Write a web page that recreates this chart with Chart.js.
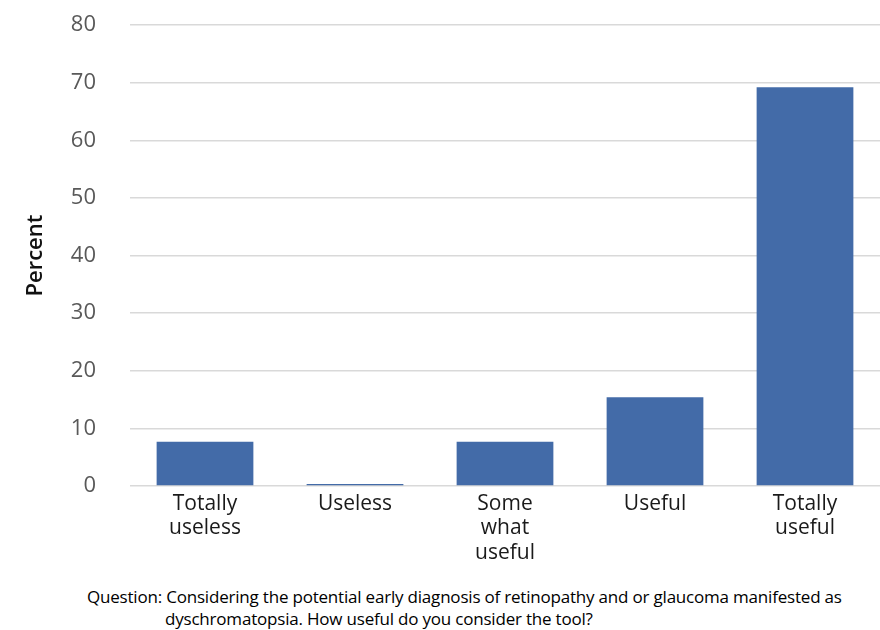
<!DOCTYPE html>
<html>
<head>
<meta charset="utf-8">
<script src="https://cdn.jsdelivr.net/npm/chart.js@4/dist/chart.umd.min.js"></script>
<style>
  html, body { margin: 0; padding: 0; background: #ffffff; }
  #wrap { position: relative; width: 880px; height: 630px; }
  #chartBox { position: absolute; left: 0; top: 0; width: 880px; height: 575px; }
  #caption {
    position: absolute; left: 87px; top: 586px; width: 790px;
    font-family: "Open Sans", "Liberation Sans", sans-serif;
    font-size: 17px; line-height: 22px; color: #000; letter-spacing: -0.2px;
  }
  #caption .l2 { padding-left: 78px; }
</style>
</head>
<body>
<div id="wrap">
  <div id="chartBox"><canvas id="c" width="880" height="575"></canvas></div>
  <div id="caption">
    <div>Question: Considering the potential early diagnosis of retinopathy and or glaucoma manifested as</div>
    <div class="l2">dyschromatopsia. How useful do you consider the tool?</div>
  </div>
</div>
<script>
// Response categories (multi-line labels)
const categories = [
  ["Totally", "useless"],
  ["Useless"],
  ["Some", "what", "useful"],
  ["Useful"],
  ["Totally", "useful"]
];
// Share of respondents, percent
const percentValues = [7.7, 0, 7.7, 15.4, 69.2];
// Y axis range and step
const yMin = 0;
const yMax = 80;
const yStep = 10;

new Chart(document.getElementById("c"), {
  type: "bar",
  data: {
    labels: categories,
    datasets: [{
      data: percentValues,
      backgroundColor: "#436ba8",
      borderWidth: 0,
      minBarLength: 2,
      categoryPercentage: 1.0,
      barPercentage: 0.645
    }]
  },
  options: {
    responsive: false,
    animation: false,
    layout: { padding: { left: 23, right: 0, top: 0, bottom: 4 } },
    plugins: {
      legend: { display: false },
      tooltip: { enabled: false }
    },
    scales: {
      x: {
        grid: { display: false, drawTicks: false },
        border: { display: false },
        ticks: {
          color: "#1a1a1a",
          padding: 5,
          maxRotation: 0,
          autoSkip: false,
          font: { family: "Open Sans", size: 21, lineHeight: 1.19 }
        }
      },
      y: {
        min: yMin,
        max: yMax,
        afterFit(scale) {
          scale.width = 107;
          scale.paddingTop = 25;
        },
        grid: { color: "#d9d9d9", lineWidth: 1.5, drawTicks: false },
        border: { display: false },
        ticks: {
          stepSize: yStep,
          color: "#595959",
          padding: 34,
          font: { family: "Open Sans", size: 22 }
        },
        title: {
          display: true,
          text: "Percent",
          color: "#111",
          padding: { top: 0, bottom: 0 },
          font: { family: "Open Sans", size: 22, weight: "600" }
        }
      }
    }
  }
});
</script>
</body>
</html>
